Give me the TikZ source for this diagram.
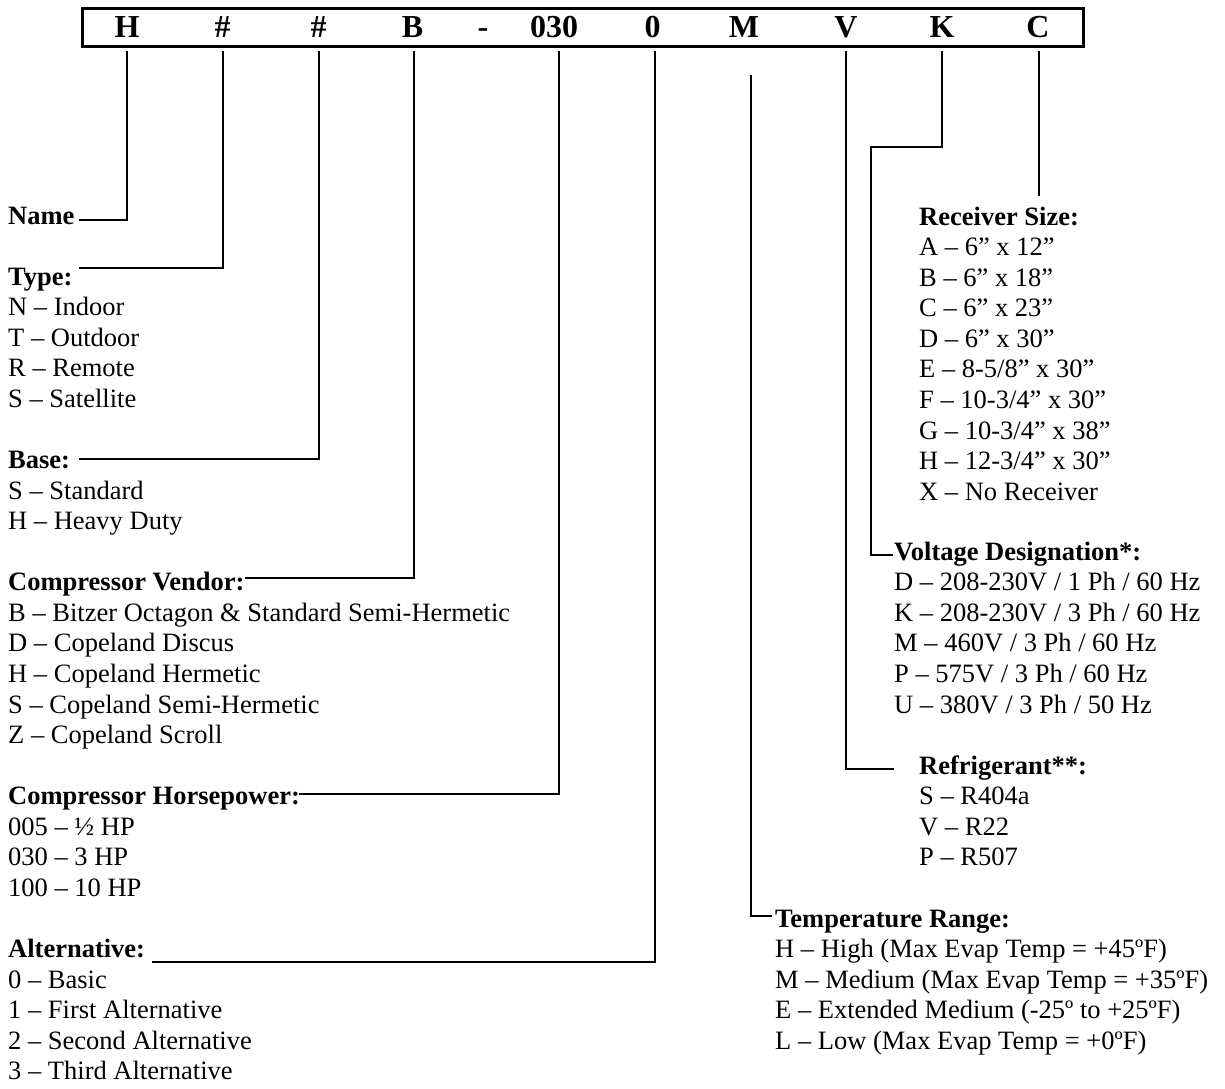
\documentclass[tikz,border=0pt]{standalone}
\usepackage{fontspec}
\setmainfont{Liberation Serif}
\begin{document}
\begin{tikzpicture}[x=1pt,y=-1pt,
  txt/.style={anchor=base west,inner sep=0pt,font=\fontsize{26.5}{30}\selectfont},
  hdr/.style={txt,font=\fontsize{26.5}{30}\selectfont\bfseries},
  code/.style={anchor=base,inner sep=0pt,font=\fontsize{32}{36}\selectfont\bfseries},
  lead/.style={line width=2pt},
  frame/.style={draw,line width=3pt,inner sep=0pt,minimum width=1001pt,minimum height=38pt}]
\useasboundingbox (0,0) rectangle (1225,1088);
\def\pitch{30.57}
% code box
\node[frame] (box) at (582.5,27) {};
\foreach \l/\x [count=\i] in {H/127,\#/222.5,\#/318.5,B/412.5,-/483,030/554,0/652.5,M/744,V/846,K/942,C/1038}
  \node[code] (c\i) at (\x,37) {\l};
% left column
\node[hdr] (name) at (8,224) {Name};
\node[hdr] (type) at (8,{224+2*\pitch}) {Type:};
\foreach \t [count=\i] in {{N – Indoor},{T – Outdoor},{R – Remote},{S – Satellite}}
  \node[txt] (type\i) at (8,{224+(2+\i)*\pitch}) {\t};
\node[hdr] (base) at (8,{224+8*\pitch}) {Base:};
\foreach \t [count=\i] in {{S – Standard},{H – Heavy Duty}}
  \node[txt] (base\i) at (8,{224+(8+\i)*\pitch}) {\t};
\node[hdr] (vendor) at (8,{224+12*\pitch}) {Compressor Vendor:};
\foreach \t [count=\i] in {{B – Bitzer Octagon \& Standard Semi-Hermetic},{D – Copeland Discus},{H – Copeland Hermetic},{S – Copeland Semi-Hermetic},{Z – Copeland Scroll}}
  \node[txt] (vendor\i) at (8,{224+(12+\i)*\pitch}) {\t};
\node[hdr] (hp) at (8,{224+19*\pitch}) {Compressor Horsepower:};
\foreach \t [count=\i] in {{005 – ½ HP},{030 – 3 HP},{100 – 10 HP}}
  \node[txt] (hp\i) at (8,{224+(19+\i)*\pitch}) {\t};
\node[hdr] (alt) at (8,{224+24*\pitch}) {Alternative:};
\foreach \t [count=\i] in {{0 – Basic},{1 – First Alternative},{2 – Second Alternative},{3 – Third Alternative}}
  \node[txt] (alt\i) at (8,{224+(24+\i)*\pitch}) {\t};
% right column
\node[hdr] (rec) at (919,225) {Receiver Size:};
\foreach \t [count=\i] in {{A – 6” x 12”},{B – 6” x 18”},{C – 6” x 23”},{D – 6” x 30”},{E – 8-5/8” x 30”},{F – 10-3/4” x 30”},{G – 10-3/4” x 38”},{H – 12-3/4” x 30”},{X – No Receiver}}
  \node[txt] (rec\i) at (919,{225+\i*\pitch}) {\t};
\node[hdr] (volt) at (894,{224+11*\pitch}) {Voltage Designation*:};
\foreach \t [count=\i] in {{D – 208-230V / 1 Ph / 60 Hz},{K – 208-230V / 3 Ph / 60 Hz},{M – 460V / 3 Ph / 60 Hz},{P – 575V / 3 Ph / 60 Hz},{U – 380V / 3 Ph / 50 Hz}}
  \node[txt] (volt\i) at (894,{224+(11+\i)*\pitch}) {\t};
\node[hdr] (ref) at (919,{224+18*\pitch}) {Refrigerant**:};
\foreach \t [count=\i] in {{S – R404a},{V – R22},{P – R507}}
  \node[txt] (ref\i) at (919,{224+(18+\i)*\pitch}) {\t};
\node[hdr] (temp) at (775,{224+23*\pitch}) {Temperature Range:};
\foreach \t [count=\i] in {{H – High (Max Evap Temp = +45ºF)},{M – Medium (Max Evap Temp = +35ºF)},{E – Extended Medium (-25º to +25ºF)},{L – Low (Max Evap Temp = +0ºF)}}
  \node[txt] (temp\i) at (775,{224+(23+\i)*\pitch}) {\t};
% leader end points
\coordinate (sH) at (127,51);   \coordinate (eH) at (79,220);
\coordinate (sT) at (222.5,51); \coordinate (eT) at (79,268);
\coordinate (sB) at (318.5,51); \coordinate (eB) at (79,459);
\coordinate (sV) at (414,51);   \coordinate (eV) at (245,578);
\coordinate (sP) at (558.5,51); \coordinate (eP) at (299,794);
\coordinate (sA) at (655,51);   \coordinate (eA) at (152,962);
\coordinate (sM) at (750.5,75); \coordinate (eM) at (772,916);
\coordinate (sR) at (846,51);   \coordinate (eR) at (894,769);
\coordinate (sK) at (942,51);   \coordinate (kK) at (871,147); \coordinate (eK) at (893,555);
\coordinate (sC) at (1039,51);  \coordinate (eC) at (1039,196);
\draw[lead] (sH) |- (eH);
\draw[lead] (sT) |- (eT);
\draw[lead] (sB) |- (eB);
\draw[lead] (sV) |- (eV);
\draw[lead] (sP) |- (eP);
\draw[lead] (sA) |- (eA);
\draw[lead] (sM) |- (eM);
\draw[lead] (sR) |- (eR);
\draw[lead] (sK) |- (kK) |- (eK);
\draw[lead] (sC) -- (eC);
\end{tikzpicture}
\end{document}
